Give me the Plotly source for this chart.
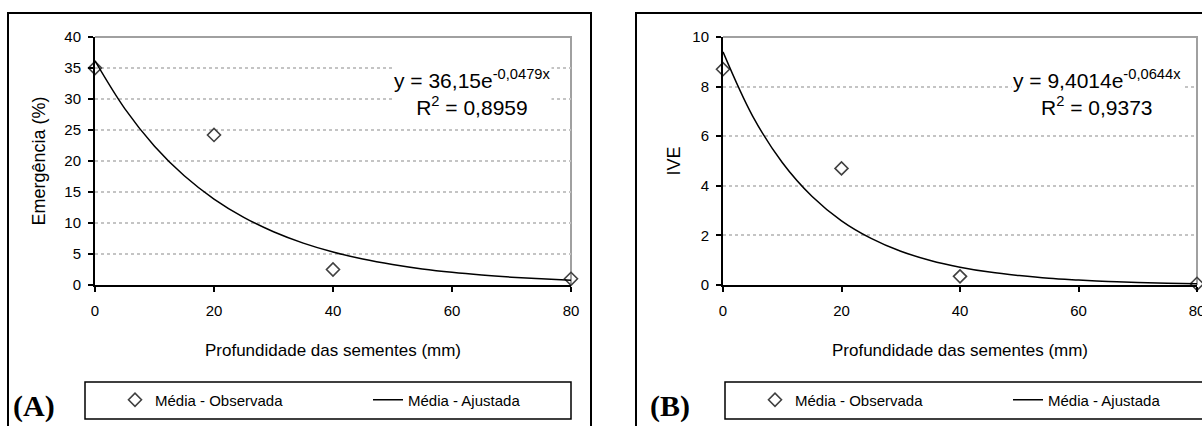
import plotly.graph_objects as go

# ---------------- data ----------------
depth_obs = [0, 20, 40, 80]
emerg_obs = [35.0, 24.2, 2.5, 1.0]
ive_obs = [8.7, 4.7, 0.35, 0.05]

depth_fit = [0, 5, 10, 15, 20, 25, 30, 35, 40, 45, 50, 55, 60, 65, 70, 75, 80]
emerg_fit = [36.15, 28.45, 22.39, 17.62, 13.87, 10.92, 8.59, 6.76, 5.32,
             4.19, 3.30, 2.59, 2.04, 1.61, 1.27, 1.00, 0.78]
ive_fit = [9.40, 6.81, 4.94, 3.58, 2.59, 1.88, 1.36, 0.99, 0.72,
           0.52, 0.38, 0.27, 0.20, 0.14, 0.10, 0.075, 0.054]

x_ticks = [0, 20, 40, 60, 80]
eq_a = "y = 36,15e<sup>-0,0479x</sup><br>R<sup>2</sup> = 0,8959"
eq_b = "y = 9,4014e<sup>-0,0644x</sup><br>R<sup>2</sup> = 0,9373"
x_title = "Profundidade das sementes (mm)"
y_title_a = "Emergência (%)"
y_title_b = "IVE"
obs_name = "Média - Observada"
fit_name = "Média - Ajustada"

W, H = 1202, 426
FONT = "Liberation Sans, Arial, sans-serif"
SERIF = "Liberation Serif, Times New Roman, serif"


def px(x):
    return x / W


def py(y):
    return 1 - y / H


fig = go.Figure()

marker_style = dict(symbol="diamond-open", size=10, color="#404040",
                    line=dict(width=1.6, color="#404040"))

# Panel A
fig.add_trace(go.Scatter(x=depth_obs, y=emerg_obs, mode="markers", name=obs_name,
                         marker=marker_style, cliponaxis=False,
                         xaxis="x", yaxis="y", legend="legend"))
fig.add_trace(go.Scatter(x=depth_fit, y=emerg_fit, mode="lines", name=fit_name,
                         line=dict(color="black", width=1.5, shape="spline"),
                         xaxis="x", yaxis="y", legend="legend"))
# Panel B
fig.add_trace(go.Scatter(x=depth_obs, y=ive_obs, mode="markers", name=obs_name,
                         marker=marker_style, cliponaxis=False,
                         xaxis="x2", yaxis="y2", legend="legend2"))
fig.add_trace(go.Scatter(x=depth_fit, y=ive_fit, mode="lines", name=fit_name,
                         line=dict(color="black", width=1.5, shape="spline"),
                         xaxis="x2", yaxis="y2", legend="legend2"))

ydom = [py(285), py(37)]

xcommon = dict(range=[0, 80], tickvals=x_ticks, showgrid=False, zeroline=False,
               showline=True, linecolor="black", linewidth=2,
               ticks="outside", ticklen=5, tickwidth=1.5, tickcolor="black",
               ticklabelstandoff=6, ticklabeloverflow="allow",
               tickfont=dict(size=15, color="black", family=FONT),
               title=dict(text=x_title, font=dict(size=17, color="black", family=FONT),
                          standoff=26))
ycommon = dict(showgrid=True, gridcolor="#c4c4c4", griddash="dot", gridwidth=2,
               zeroline=False, showline=True, linecolor="black", linewidth=2,
               ticks="outside", ticklen=5, tickwidth=1.5, tickcolor="black",
               ticklabelstandoff=4,
               tickfont=dict(size=15, color="black", family=FONT))

legend_common = dict(orientation="h", xanchor="left", yanchor="middle",
                     bgcolor="rgba(0,0,0,0)", borderwidth=0, entrywidth=208,
                     entrywidthmode="pixels",
                     font=dict(size=15, color="black", family=FONT),
                     itemclick=False, itemdoubleclick=False)

fig.update_layout(
    width=W, height=H, autosize=False,
    margin=dict(l=0, r=0, t=0, b=0, pad=0, autoexpand=False),
    paper_bgcolor="white", plot_bgcolor="white",
    font=dict(family=FONT, color="black"),
    xaxis=dict(domain=[px(95), px(571)], anchor="y", **xcommon),
    yaxis=dict(domain=ydom, anchor="x", range=[0, 40], dtick=5,
               title=dict(text=y_title_a, font=dict(size=18, color="black", family=FONT),
                          standoff=14),
               **ycommon),
    xaxis2=dict(domain=[px(723), px(1197)], anchor="y2", **xcommon),
    yaxis2=dict(domain=ydom, anchor="x2", range=[0, 10], dtick=2,
                title=dict(text=y_title_b, font=dict(size=18, color="black", family=FONT),
                           standoff=7),
                **ycommon),
    legend=dict(x=px(115), y=py(400), **legend_common),
    legend2=dict(x=px(755), y=py(400), **legend_common),
    showlegend=True,
)

shapes = []
# outer frames
shapes.append(dict(type="rect", xref="paper", yref="paper", x0=px(8), x1=px(591),
                   y0=py(440), y1=py(13), line=dict(color="black", width=2)))
shapes.append(dict(type="rect", xref="paper", yref="paper", x0=px(636), x1=px(1215),
                   y0=py(440), y1=py(13), line=dict(color="black", width=2)))
# legend boxes
shapes.append(dict(type="rect", xref="paper", yref="paper", x0=px(85), x1=px(571),
                   y0=py(419), y1=py(382), line=dict(color="black", width=1.5)))
shapes.append(dict(type="rect", xref="paper", yref="paper", x0=px(725), x1=px(1215),
                   y0=py(419), y1=py(382), line=dict(color="black", width=1.5)))
# gray top/right plot borders
for xr, yr in [("x domain", "y domain"), ("x2 domain", "y2 domain")]:
    shapes.append(dict(type="path", xref=xr, yref=yr, path="M 0,1 L 1,1 L 1,0",
                       line=dict(color="#a0a0a0", width=2), layer="below"))
fig.update_layout(shapes=shapes)

annotations = [
    dict(text=eq_a, xref="paper", yref="paper", x=px(472), y=py(93), showarrow=False,
         align="center", bgcolor="white", font=dict(size=21, color="black", family=FONT),
         xanchor="center", yanchor="middle"),
    dict(text=eq_b, xref="paper", yref="paper", x=px(1097), y=py(92), showarrow=False,
         align="center", bgcolor="white", font=dict(size=21, color="black", family=FONT),
         xanchor="center", yanchor="middle"),
    dict(text="<b>(A)</b>", xref="paper", yref="paper", x=px(11), y=py(425),
         showarrow=False, xanchor="left", yanchor="bottom",
         font=dict(size=30, color="black", family=SERIF)),
    dict(text="<b>(B)</b>", xref="paper", yref="paper", x=px(648), y=py(425),
         showarrow=False, xanchor="left", yanchor="bottom",
         font=dict(size=30, color="black", family=SERIF)),
]
fig.update_layout(annotations=annotations)

fig.write_html("out.html",
               config={"displayModeBar": False},
               post_script="document.body.style.margin='0px';"
                           "document.body.style.overflow='hidden';")
